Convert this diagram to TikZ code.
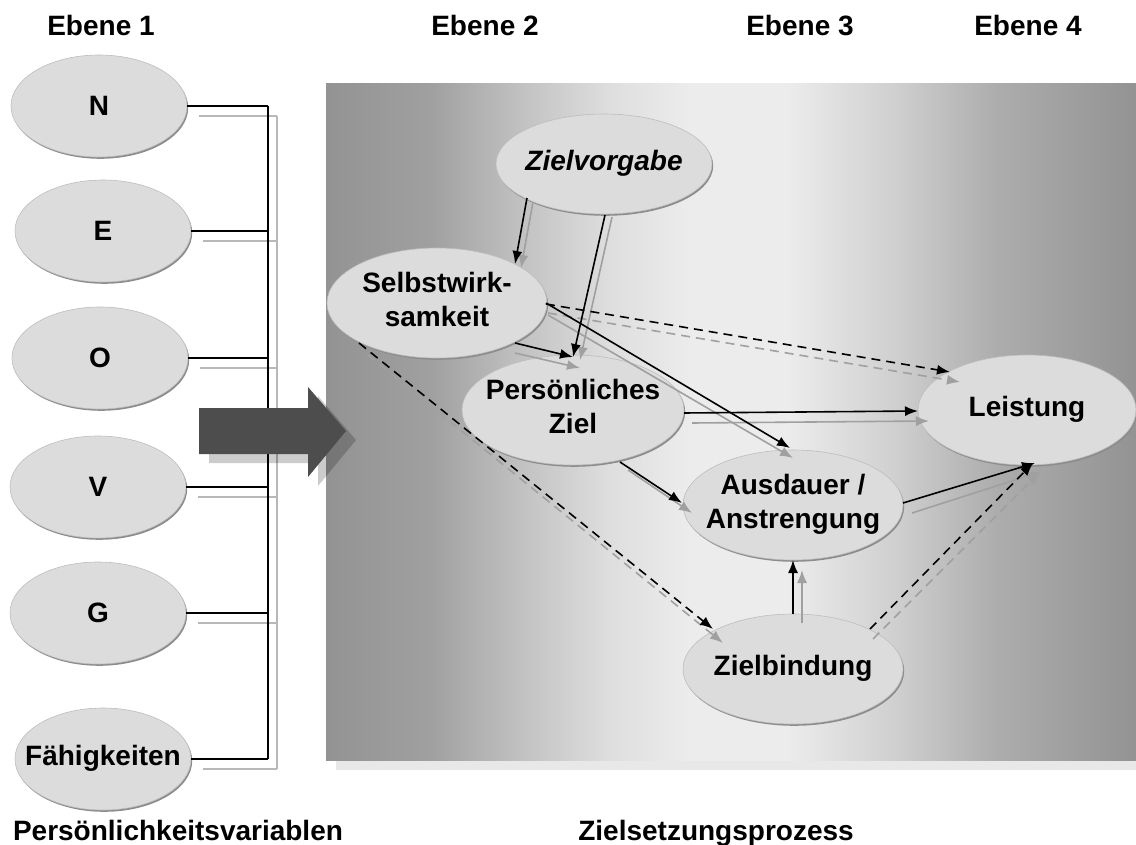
\documentclass[tikz,border=0pt]{standalone}
\usepackage{fontspec}
\setmainfont{Liberation Sans}
\usetikzlibrary{shapes.geometric,arrows.meta,calc,shadows}

\definecolor{g0}{HTML}{939393}
\definecolor{g1}{HTML}{A0A0A0}
\definecolor{g2}{HTML}{C4C4C4}
\definecolor{g3}{HTML}{DEDEDE}
\definecolor{g4}{HTML}{ECECEC}
\definecolor{g5}{HTML}{D0D0D0}
\definecolor{g6}{HTML}{ACACAC}
\definecolor{ellfill}{HTML}{DCDCDC}
\definecolor{ellrim}{HTML}{BDBDBD}
\definecolor{ellshadow}{HTML}{8C8C8C}
\definecolor{arrgray}{HTML}{A0A0A0}
\definecolor{busgray}{HTML}{B8B8B8}
\definecolor{blockarrow}{HTML}{4D4D4D}
\definecolor{boxshadow}{HTML}{E8E8E8}

% background of the goal-setting panel: dark at both sides, light in the middle
\pgfdeclarehorizontalshading{boxshade}{100bp}{color(0bp)=(g0); color(25bp)=(g0);
  color(31.5bp)=(g1); color(37.5bp)=(g2); color(42.5bp)=(g3); color(47.5bp)=(g4);
  color(53.5bp)=(g4); color(60bp)=(g5); color(66.5bp)=(g6); color(75bp)=(g0);
  color(100bp)=(g0)}

\newcommand\ctext[1]{\makebox[0pt]{\begin{tabular}{@{}c@{}}#1\end{tabular}}}

\begin{document}
\begin{tikzpicture}[x=1pt,y=-1pt,
  every node/.style={font=\fontsize{28}{34}\selectfont\bfseries},
  ell/.style={ellipse, fill=ellfill, draw=ellrim, line width=0.6pt, inner sep=0pt,
    general shadow={fill=ellshadow, shadow xshift=1.2pt, shadow yshift=-1.8pt}},
  lell/.style={ell, minimum width=176pt, minimum height=102pt},
  bell/.style={ell, minimum width=220pt, minimum height=110pt},
  lbl/.style={anchor=base, inner sep=0pt},
  arr/.style={-{Latex[length=13pt,width=10pt]}},
  blk/.style={arr, draw=black, line width=1.6pt},
  gry/.style={arr, draw=arrgray, line width=1.6pt},
  dsh/.style={dash pattern=on 9pt off 6pt},
  busb/.style={draw=black, line width=1.3pt},
  busg/.style={draw=busgray, line width=1.1pt}]

\useasboundingbox (0,0) rectangle (1136,845);

% level headings
\node[lbl] (h1) at (101,36) {Ebene 1};
\node[lbl] (h2) at (485,36) {Ebene 2};
\node[lbl] (h3) at (800,36) {Ebene 3};
\node[lbl] (h4) at (1028,36) {Ebene 4};

% panel with its shadow
\fill[boxshadow] (336,94) rectangle (1136,770);
\shade[shading=boxshade] (326,84) rectangle (1136,760);

% personality variables
\node[lell] (n1) at (99,106) {N};
\node[lell] (n2) at (103,231) {E};
\node[lell] (n3) at (100,358) {O};
\node[lell] (n4) at (98,487) {V};
\node[lell] (n5) at (98,613) {G};
\node[lell] (n6) at (103,759) {\ctext{Fähigkeiten}};

% bus lines collecting the variables
\coordinate (bx) at (268,0);
\coordinate (gx) at (277,0);
\foreach \n in {n1,n2,n3,n4,n5,n6}{
  \coordinate (s\n) at ($(\n.east)+(12,10)$);
  \draw[busg] (s\n) -- (s\n -| gx);
}
\draw[busg] (sn1 -| gx) -- (sn6 -| gx);
\foreach \n in {n1,n2,n3,n4,n5,n6}{
  \draw[busb] (\n.east) -- (\n.east -| bx);
}
\draw[busb] (n1.east -| bx) -- (n6.east -| bx);

% block arrow into the panel
\fill[black, opacity=0.2] (209,417) -- (318,417) -- (318,396) -- (356,440) -- (318,486) -- (318,463) -- (209,463) -- cycle;
\fill[blockarrow] (199,408) -- (308,408) -- (308,387) -- (346,431) -- (308,477) -- (308,454) -- (199,454) -- cycle;

% goal-setting process
\node[bell, minimum width=216pt, minimum height=100pt] (zv) at (604,164) {\ctext{\itshape Zielvorgabe}};
\node[bell] (sw) at (437,303) {\ctext{Selbstwirk-\\samkeit}};
\node[bell, minimum width=222pt] (pz) at (573,410) {\ctext{Persönliches\\Ziel}};
\node[bell, minimum width=218pt] (ls) at (1027,410) {\ctext{Leistung}};
\node[bell] (au) at (793,505) {\ctext{Ausdauer /\\Anstrengung}};
\node[bell] (zb) at (793,669) {\ctext{Zielbindung}};

% gray companion arrows
\draw[gry] ($(zv)+(-71,38)$) -- ($(sw)+(84,-35)$);
\draw[gry] ($(zv)+(8,53)$) -- ($(pz)+(7,-50)$);
\draw[gry] ($(sw)+(78,50)$) -- ($(pz)+(7,-42)$);
\draw[gry,dsh] ($(sw)+(111,10)$) -- ($(ls)+(-67,-28)$);
\draw[gry] ($(sw)+(111,12)$) -- ($(au)+(0,-47)$);
\draw[gry,dsh] ($(sw)+(-69,52)$) -- ($(zb)+(-70,-26)$);
\draw[gry] ($(pz)+(119,13)$) -- ($(ls)+(-98,11)$);
\draw[gry] ($(pz)+(55,60)$) -- ($(au)+(-101,8)$);
\draw[gry] ($(au)+(119,8)$) -- ($(ls)+(13,62)$);
\draw[gry,dsh] ($(zb)+(80,-30)$) -- ($(ls)+(13,62)$);
\draw[gry] ($(zb)+(9,-46)$) -- ($(au)+(9,65)$);

% black arrows
\draw[blk] ($(zv)+(-77,34)$) -- ($(sw)+(78,-39)$);
\draw[blk] ($(zv)+(1,51)$) -- ($(pz)+(0,-53)$);
\draw[blk] ($(sw)+(78,40)$) -- ($(pz)+(0,-53)$);
\draw[blk,dsh] ($(sw)+(109,1)$) -- ($(ls)+(-77,-38)$);
\draw[blk] ($(sw)+(109,0)$) -- ($(au)+(-3,-57)$);
\draw[blk,dsh] ($(sw)+(-78,40)$) -- ($(zb)+(-80,-40)$);
\draw[blk] ($(pz)+(111,3)$) -- ($(ls)+(-109,1)$);
\draw[blk] ($(pz)+(47,52)$) -- ($(au)+(-111,-2)$);
\draw[blk] ($(au)+(110,-2)$) -- ($(ls)+(8,53)$);
\draw[blk,dsh] ($(zb)+(77,-40)$) -- ($(ls)+(6,53)$);
\draw[blk] ($(zb)+(0,-55)$) -- ($(au)+(0,55)$);

% captions
\node[lbl] (c1) at (178,840) {Persönlichkeitsvariablen};
\node[lbl] (c2) at (716,840) {Zielsetzungsprozess};
\end{tikzpicture}
\end{document}
